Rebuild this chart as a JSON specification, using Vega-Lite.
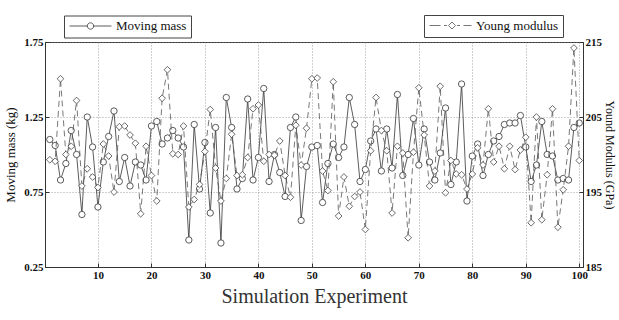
{
  "$schema": "https://vega.github.io/schema/vega-lite/v6.json",
  "width": 538,
  "height": 225,
  "autosize": {"type": "none"},
  "padding": {"left": 45, "top": 42, "right": 36, "bottom": 53},
  "background": "white",
  "data": {
    "values": [
      {"i": 1, "mass": 1.10, "young": 199.3}, {"i": 2, "mass": 1.06, "young": 199.1},
      {"i": 3, "mass": 0.83, "young": 210.1}, {"i": 4, "mass": 0.94, "young": 200.0},
      {"i": 5, "mass": 1.16, "young": 201.1}, {"i": 6, "mass": 1.00, "young": 207.2},
      {"i": 7, "mass": 0.60, "young": 195.8}, {"i": 8, "mass": 1.25, "young": 198.1},
      {"i": 9, "mass": 1.05, "young": 197.0}, {"i": 10, "mass": 0.65, "young": 195.6},
      {"i": 11, "mass": 0.95, "young": 201.4}, {"i": 12, "mass": 1.12, "young": 199.8},
      {"i": 13, "mass": 1.29, "young": 195.0}, {"i": 14, "mass": 0.82, "young": 203.7},
      {"i": 15, "mass": 0.98, "young": 203.8}, {"i": 16, "mass": 0.79, "young": 202.6},
      {"i": 17, "mass": 0.95, "young": 201.5}, {"i": 18, "mass": 0.93, "young": 192.1},
      {"i": 19, "mass": 0.83, "young": 201.1}, {"i": 20, "mass": 1.19, "young": 197.2},
      {"i": 21, "mass": 1.22, "young": 193.8}, {"i": 22, "mass": 1.07, "young": 207.5},
      {"i": 23, "mass": 1.11, "young": 211.3}, {"i": 24, "mass": 1.16, "young": 200.1},
      {"i": 25, "mass": 1.11, "young": 200.0}, {"i": 26, "mass": 1.05, "young": 203.8},
      {"i": 27, "mass": 0.43, "young": 193.0}, {"i": 28, "mass": 1.20, "young": 194.0},
      {"i": 29, "mass": 0.77, "young": 196.0}, {"i": 30, "mass": 1.08, "young": 200.4},
      {"i": 31, "mass": 0.61, "young": 206.0}, {"i": 32, "mass": 1.18, "young": 198.2},
      {"i": 33, "mass": 0.41, "young": 193.8}, {"i": 34, "mass": 1.38, "young": 196.8},
      {"i": 35, "mass": 1.18, "young": 202.7}, {"i": 36, "mass": 0.77, "young": 197.2},
      {"i": 37, "mass": 0.84, "young": 197.3}, {"i": 38, "mass": 1.37, "young": 199.6},
      {"i": 39, "mass": 0.83, "young": 206.1}, {"i": 40, "mass": 0.98, "young": 206.6},
      {"i": 41, "mass": 1.44, "young": 199.1}, {"i": 42, "mass": 0.82, "young": 200.0},
      {"i": 43, "mass": 1.00, "young": 199.9}, {"i": 44, "mass": 0.88, "young": 201.8},
      {"i": 45, "mass": 0.72, "young": 197.2}, {"i": 46, "mass": 1.18, "young": 194.3},
      {"i": 47, "mass": 1.25, "young": 203.9}, {"i": 48, "mass": 0.56, "young": 198.6},
      {"i": 49, "mass": 0.92, "young": 203.5}, {"i": 50, "mass": 1.05, "young": 210.1},
      {"i": 51, "mass": 1.06, "young": 210.2}, {"i": 52, "mass": 0.68, "young": 197.8},
      {"i": 53, "mass": 0.94, "young": 195.2}, {"i": 54, "mass": 1.07, "young": 209.7},
      {"i": 55, "mass": 0.98, "young": 191.8}, {"i": 56, "mass": 1.05, "young": 197.0},
      {"i": 57, "mass": 1.38, "young": 193.1}, {"i": 58, "mass": 1.20, "young": 194.4},
      {"i": 59, "mass": 0.82, "young": 195.0}, {"i": 60, "mass": 0.90, "young": 190.0},
      {"i": 61, "mass": 1.09, "young": 200.5}, {"i": 62, "mass": 1.17, "young": 207.6},
      {"i": 63, "mass": 0.89, "young": 203.2}, {"i": 64, "mass": 1.17, "young": 200.5},
      {"i": 65, "mass": 0.91, "young": 192.2}, {"i": 66, "mass": 1.40, "young": 201.1},
      {"i": 67, "mass": 0.86, "young": 200.2}, {"i": 68, "mass": 1.00, "young": 188.9},
      {"i": 69, "mass": 1.24, "young": 200.3}, {"i": 70, "mass": 0.93, "young": 208.9},
      {"i": 71, "mass": 1.17, "young": 202.6}, {"i": 72, "mass": 0.95, "young": 195.8},
      {"i": 73, "mass": 0.83, "young": 197.8}, {"i": 74, "mass": 1.01, "young": 209.1},
      {"i": 75, "mass": 1.31, "young": 194.9}, {"i": 76, "mass": 0.80, "young": 199.2},
      {"i": 77, "mass": 0.95, "young": 197.4}, {"i": 78, "mass": 1.47, "young": 197.3},
      {"i": 79, "mass": 0.69, "young": 195.4}, {"i": 80, "mass": 0.99, "young": 197.4},
      {"i": 81, "mass": 1.07, "young": 200.9}, {"i": 82, "mass": 0.86, "young": 198.6},
      {"i": 83, "mass": 1.00, "young": 206.1}, {"i": 84, "mass": 1.09, "young": 199.0},
      {"i": 85, "mass": 1.12, "young": 201.1}, {"i": 86, "mass": 1.20, "young": 198.1},
      {"i": 87, "mass": 1.21, "young": 201.1}, {"i": 88, "mass": 1.21, "young": 198.0},
      {"i": 89, "mass": 1.26, "young": 200.6}, {"i": 90, "mass": 1.05, "young": 202.3},
      {"i": 91, "mass": 0.82, "young": 190.9}, {"i": 92, "mass": 0.93, "young": 205.0},
      {"i": 93, "mass": 1.22, "young": 191.3}, {"i": 94, "mass": 1.00, "young": 197.3},
      {"i": 95, "mass": 0.99, "young": 206.1}, {"i": 96, "mass": 0.83, "young": 190.3},
      {"i": 97, "mass": 0.84, "young": 195.3}, {"i": 98, "mass": 0.83, "young": 201.1},
      {"i": 99, "mass": 1.18, "young": 214.2}, {"i": 100, "mass": 1.21, "young": 199.2}
    ]
  },
  "encoding": {
    "x": {
      "field": "i",
      "type": "quantitative",
      "scale": {"domain": [0.1, 100.7], "nice": false, "zero": false},
      "axis": {
        "title": "Simulation Experiment",
        "values": [10, 20, 30, 40, 50, 60, 70, 80, 90, 100],
        "grid": true,
        "titleFontSize": 20,
        "titleFontWeight": "normal",
        "titleColor": "#333333",
        "titlePadding": 6
      }
    }
  },
  "layer": [
    {
      "encoding": {
        "y": {
          "field": "mass",
          "type": "quantitative",
          "scale": {"domain": [0.25, 1.75], "nice": false, "zero": false},
          "axis": {
            "orient": "left",
            "title": "Moving mass (kg)",
            "values": [0.25, 0.75, 1.25, 1.75],
            "format": ".2f",
            "grid": true,
            "titlePadding": 6
          }
        }
      },
      "layer": [
        {
          "mark": {"type": "line", "strokeWidth": 0.8},
          "encoding": {
            "stroke": {
              "datum": "Moving mass",
              "scale": {"range": ["#333333"]},
              "legend": {
                "orient": "none",
                "legendX": 19,
                "legendY": -26.5,
                "title": null,
                "symbolType": "M-1,0L2.56,0M3.84,0L7.4,0M2.56,0A0.64,0.64 0 1,0 3.84,0A0.64,0.64 0 1,0 2.56,0",
                "symbolSize": 100,
                "labelOffset": 35,
                "labelExpr": "datum.label + '\u00a0\u00a0'"
              }
            }
          }
        },
        {
          "mark": {"type": "point", "shape": "circle", "filled": false, "fill": "white", "fillOpacity": 1, "size": 40, "strokeWidth": 0.8, "stroke": "#333333", "opacity": 1}
        }
      ]
    },
    {
      "encoding": {
        "y": {
          "field": "young",
          "type": "quantitative",
          "scale": {"domain": [185, 215], "nice": false, "zero": false},
          "axis": {
            "orient": "right",
            "title": "Yound Modulus (GPa)",
            "values": [185, 195, 205, 215],
            "grid": false,
            "titleAngle": 90,
            "titleFontSize": 12,
            "titlePadding": 1
          }
        }
      },
      "layer": [
        {
          "mark": {"type": "line", "strokeWidth": 0.8, "strokeDash": [6, 4]},
          "encoding": {
            "stroke": {
              "datum": "Young modulus",
              "scale": {"range": ["#555555"]},
              "legend": {
                "orient": "none",
                "legendX": 379,
                "legendY": -27,
                "title": null,
                "symbolType": "M-1,0L1.2,0M1.9,0L2.5,0M4.5,0L5.1,0M5.8,0L7.4,0M3.5,-0.7L4.2,0L3.5,0.7L2.8,0Z",
                "symbolSize": 100,
                "labelOffset": 35,
                "labelExpr": "datum.label + '\u00a0\u00a0'"
              }
            }
          }
        },
        {
          "mark": {"type": "point", "shape": "diamond", "filled": false, "fill": "white", "fillOpacity": 1, "size": 45, "strokeWidth": 0.8, "stroke": "#444444", "opacity": 1}
        }
      ]
    }
  ],
  "resolve": {
    "scale": {"y": "independent", "stroke": "independent"},
    "legend": {"stroke": "independent"}
  },
  "config": {
    "font": "Liberation Serif",
    "view": {"stroke": "#333333", "strokeWidth": 1},
    "axis": {
      "labelFont": "Liberation Serif",
      "labelFontSize": 11,
      "labelFontWeight": "bold",
      "labelColor": "#111111",
      "titleFont": "Liberation Serif",
      "titleFontSize": 13,
      "titleFontWeight": "normal",
      "titleColor": "#111111",
      "domainColor": "#333333",
      "tickColor": "#333333",
      "tickSize": -4,
      "labelPadding": 6,
      "gridColor": "#888888",
      "gridDash": [1, 2],
      "gridWidth": 0.8,
      "gridOpacity": 1
    },
    "legend": {
      "strokeColor": "#444444",
      "fillColor": "white",
      "padding": 4,
      "cornerRadius": 0,
      "labelFont": "Liberation Serif",
      "labelFontSize": 13,
      "labelColor": "#111111",
      "symbolStrokeWidth": 0.8,
      "symbolFillColor": "white"
    }
  }
}
